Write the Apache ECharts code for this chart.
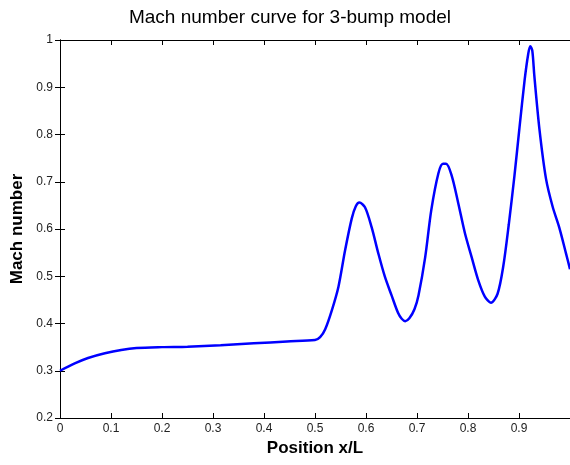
<!DOCTYPE html>
<html>
<head>
<meta charset="utf-8">
<script src="https://cdn.jsdelivr.net/npm/echarts@6/dist/echarts.min.js"></script>
<style>
  html, body { margin: 0; padding: 0; background: #fff; }
  #chart { width: 570px; height: 465px; }
</style>
</head>
<body>
<div id="chart"></div>
<script>
// position x/L and Mach number
var posX = [0.000, 0.030, 0.055, 0.088, 0.120, 0.150, 0.200, 0.250, 0.315, 0.380,
            0.445, 0.500, 0.510, 0.520, 0.533, 0.546, 0.559, 0.572, 0.580, 0.587,
            0.598, 0.611, 0.624, 0.637, 0.650, 0.663, 0.670, 0.677, 0.685, 0.695,
            0.703, 0.716, 0.728, 0.742, 0.751, 0.757, 0.768, 0.781, 0.794, 0.807,
            0.820, 0.833, 0.845, 0.858, 0.869, 0.880, 0.891, 0.901, 0.911, 0.918,
            0.922, 0.926, 0.930, 0.940, 0.953, 0.966, 0.979, 0.992, 1.000];
var mach = [0.300, 0.316, 0.327, 0.337, 0.344, 0.348, 0.350, 0.351, 0.354, 0.358,
            0.362, 0.365, 0.371, 0.388, 0.428, 0.478, 0.555, 0.622, 0.648, 0.656,
            0.646, 0.604, 0.549, 0.499, 0.460, 0.422, 0.410, 0.405, 0.411, 0.430,
            0.460, 0.540, 0.640, 0.718, 0.738, 0.738, 0.713, 0.654, 0.591, 0.541,
            0.492, 0.457, 0.444, 0.463, 0.520, 0.610, 0.712, 0.815, 0.915, 0.970,
            0.987, 0.978, 0.925, 0.812, 0.706, 0.647, 0.603, 0.549, 0.515];

var xRange = [0, 1, 0.1];
var yRange = [0.2, 1, 0.1];

var font = "'Liberation Sans', Arial, sans-serif";

var points = posX.map(function (x, i) { return [x, mach[i]]; });

var chart = echarts.init(document.getElementById('chart'));

var tickLabel = { color: '#222', fontSize: 12, fontFamily: font };

chart.setOption({
  animation: false,
  backgroundColor: '#fff',
  title: {
    text: 'Mach number curve for 3-bump model',
    left: 290,
    top: 8,
    padding: 0,
    textAlign: 'center',
    textStyle: { fontSize: 19, fontWeight: 'normal', color: '#000', fontFamily: font }
  },
  grid: { left: 60, top: 40, width: 512, height: 378 },
  xAxis: [{
    type: 'value',
    min: xRange[0], max: xRange[1], interval: xRange[2],
    name: 'Position x/L',
    nameLocation: 'middle',
    nameGap: 22,
    nameTextStyle: { fontSize: 17, fontWeight: 'bold', color: '#000', fontFamily: font },
    axisLine: { show: true, lineStyle: { color: '#000', width: 1 } },
    axisTick: { show: true, inside: true, length: 5, lineStyle: { color: '#000' } },
    axisLabel: Object.assign({ margin: 5, showMaxLabel: false,
      formatter: function (v) { return String(Math.round(v * 10) / 10); } }, tickLabel),
    splitLine: { show: false }
  }, {
    type: 'value',
    position: 'top',
    min: xRange[0], max: xRange[1], interval: xRange[2],
    axisLine: { show: true, lineStyle: { color: '#000', width: 1 } },
    axisTick: { show: true, inside: true, length: 5, lineStyle: { color: '#000' } },
    axisLabel: { show: false },
    splitLine: { show: false }
  }],
  yAxis: [{
    type: 'value',
    min: yRange[0], max: yRange[1], interval: yRange[2],
    name: 'Mach number',
    nameLocation: 'middle',
    nameGap: 30,
    nameTextStyle: { fontSize: 17, fontWeight: 'bold', color: '#000', fontFamily: font },
    axisLine: { show: true, lineStyle: { color: '#000', width: 1 } },
    axisTick: { show: true, inside: true, length: 5, lineStyle: { color: '#000' } },
    axisLabel: Object.assign({ margin: 7,
      formatter: function (v) { return String(Math.round(v * 10) / 10); } }, tickLabel),
    splitLine: { show: false }
  }, {
    type: 'value',
    position: 'right',
    min: yRange[0], max: yRange[1], interval: yRange[2],
    axisLine: { show: true, lineStyle: { color: '#000', width: 1 } },
    axisTick: { show: true, inside: true, length: 5, lineStyle: { color: '#000' } },
    axisLabel: { show: false },
    splitLine: { show: false }
  }],
  series: [{
    type: 'line',
    data: points,
    smooth: 0.3,
    showSymbol: false,
    lineStyle: { color: '#0000ff', width: 2.5 },
    z: 3
  }]
});
</script>
</body>
</html>
